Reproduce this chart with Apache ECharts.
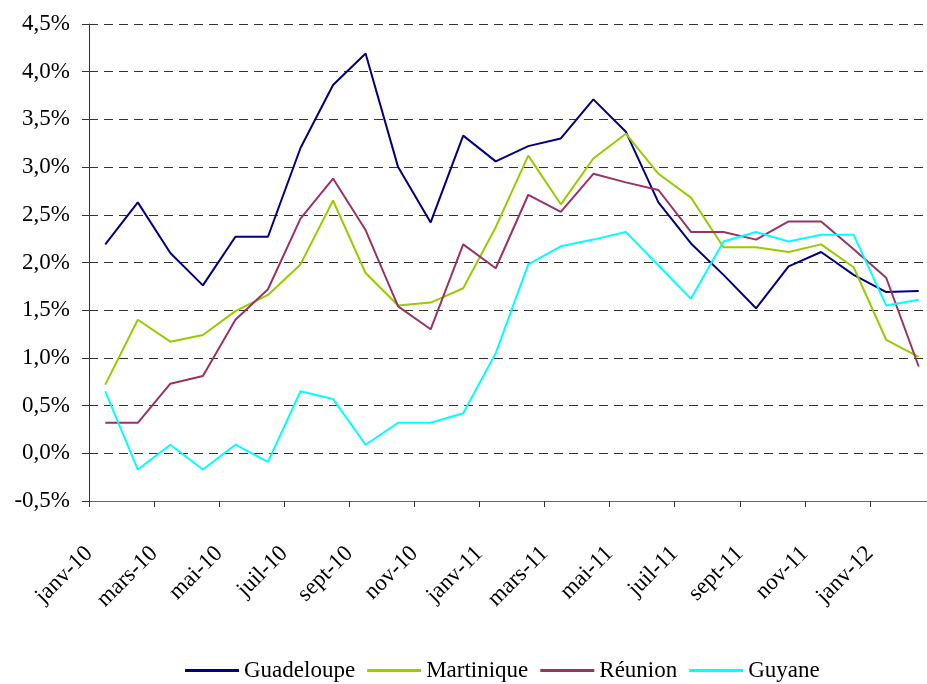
<!DOCTYPE html>
<html>
<head>
<meta charset="utf-8">
<script src="https://cdn.jsdelivr.net/npm/echarts@6/dist/echarts.min.js"></script>
<style>
  html, body { margin: 0; padding: 0; background: #fff; overflow: hidden; }
  #chart-dom { width: 936px; height: 684px; }
</style>
</head>
<body>
<div id="chart-dom"></div>
<script>
var months = ["janv-10", "févr-10", "mars-10", "avr-10", "mai-10", "juin-10", "juil-10", "août-10",
  "sept-10", "oct-10", "nov-10", "déc-10", "janv-11", "févr-11", "mars-11", "avr-11", "mai-11",
  "juin-11", "juil-11", "août-11", "sept-11", "oct-11", "nov-11", "déc-11", "janv-12", "févr-12"];

var guadeloupe = [2.19, 2.63, 2.10, 1.76, 2.27, 2.27, 3.20, 3.86, 4.19, 3.00, 2.42, 3.33, 3.06,
  3.22, 3.30, 3.71, 3.37, 2.63, 2.20, 1.87, 1.52, 1.96, 2.11, 1.87, 1.69, 1.70];
var martinique = [0.72, 1.40, 1.17, 1.24, 1.49, 1.66, 1.98, 2.65, 1.89, 1.55, 1.58, 1.73, 2.37,
  3.12, 2.61, 3.09, 3.35, 2.93, 2.68, 2.16, 2.16, 2.11, 2.19, 1.95, 1.19, 1.01];
var reunion = [0.32, 0.32, 0.73, 0.81, 1.40, 1.72, 2.46, 2.88, 2.34, 1.54, 1.30, 2.19, 1.94,
  2.71, 2.53, 2.93, 2.84, 2.76, 2.32, 2.32, 2.24, 2.43, 2.43, 2.14, 1.84, 0.91];
var guyane = [0.65, -0.17, 0.09, -0.17, 0.09, -0.09, 0.65, 0.57, 0.09, 0.32, 0.32, 0.42, 1.05,
  1.98, 2.17, 2.24, 2.32, 1.97, 1.62, 2.22, 2.32, 2.22, 2.29, 2.29, 1.55, 1.61];

// labels sit on the boundary ticks, every two months
var tickLabels = ["janv-10", "mars-10", "mai-10", "juil-10", "sept-10", "nov-10", "janv-11",
  "mars-11", "mai-11", "juil-11", "sept-11", "nov-11", "janv-12"];

var seriesNames = ["Guadeloupe", "Martinique", "Réunion", "Guyane"];
var seriesColors = ["#000080", "#99cc00", "#993366", "#00ffff"];
var seriesValues = [guadeloupe, martinique, reunion, guyane];

var fontFamily = "'Liberation Serif', 'DejaVu Serif', serif";

// each month drawn at the middle of its slot
var toPoints = function(values) {
  var res = [];
  for (var i = 0; i < values.length; i++) {
    res.push([i + 0.5, values[i]]);
  }
  return res;
};

var myChart = echarts.init(document.getElementById("chart-dom"));

var option = {
  animation: false,
  backgroundColor: "#fff",
  textStyle: { fontFamily: fontFamily },
  grid: {
    left: 89,
    top: 24,
    width: 846,
    height: 477,
    containLabel: false
  },
  legend: {
    left: 180,
    top: 654,
    icon: "rect",
    itemWidth: 54,
    itemHeight: 3,
    itemGap: 12,
    textStyle: {
      fontFamily: fontFamily,
      fontSize: 23,
      color: "#000"
    },
    data: seriesNames
  },
  xAxis: {
    type: "value",
    min: 0,
    max: months.length,
    interval: 2,
    axisLine: {
      onZero: false,
      lineStyle: { color: "#666", width: 1 }
    },
    axisTick: {
      show: true,
      length: 6,
      lineStyle: { color: "#333" }
    },
    splitLine: { show: false },
    axisLabel: {
      rotate: 45,
      margin: 49,
      fontFamily: fontFamily,
      fontSize: 23,
      color: "#000",
      showMaxLabel: false,
      formatter: function(val) {
        var label = tickLabels[val / 2];
        return label || "";
      }
    }
  },
  yAxis: {
    type: "value",
    min: -0.5,
    max: 4.5,
    interval: 0.5,
    axisLine: {
      show: true,
      onZero: false,
      lineStyle: { color: "#333", width: 1 }
    },
    axisTick: {
      show: true,
      length: 7,
      lineStyle: { color: "#333" }
    },
    splitLine: {
      show: true,
      lineStyle: {
        color: "#333",
        width: 1,
        type: [9, 6]
      }
    },
    axisLabel: {
      margin: 19,
      fontFamily: fontFamily,
      fontSize: 23,
      color: "#000",
      formatter: function(val) {
        return val.toFixed(1).replace(".", ",") + "%";
      }
    }
  },
  series: seriesNames.map(function(name, k) {
    return {
      name: name,
      type: "line",
      showSymbol: false,
      symbol: "none",
      data: toPoints(seriesValues[k]),
      itemStyle: { color: seriesColors[k] },
      lineStyle: { color: seriesColors[k], width: 2 }
    };
  })
};

myChart.setOption(option);
</script>
</body>
</html>
